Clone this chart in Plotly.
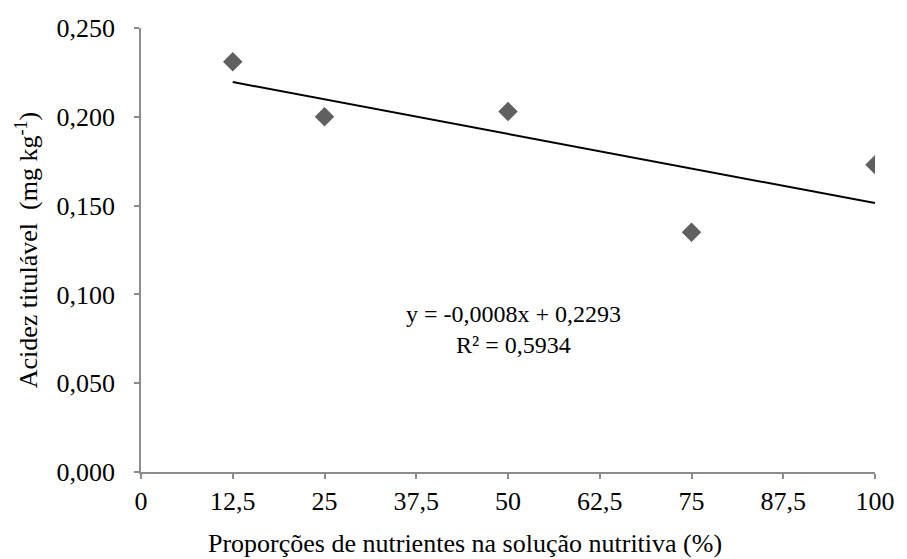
import numpy as np
import plotly.graph_objects as go

# Data
proporcoes = [12.5, 25, 50, 75, 100]
acidez = [0.231, 0.200, 0.203, 0.135, 0.173]
x_tickvals = [0, 12.5, 25, 37.5, 50, 62.5, 75, 87.5, 100]
x_ticktext = ["0", "12,5", "25", "37,5", "50", "62,5", "75", "87,5", "100"]
y_tickvals = [0, 0.05, 0.10, 0.15, 0.20, 0.25]
equation_lines = ["y = -0,0008x + 0,2293", "R² = 0,5934"]
x_title = "Proporções de nutrientes na solução nutritiva (%)"
y_title = "Acidez titulável&nbsp; (mg kg<sup>-1</sup>)"

slope, intercept = np.polyfit(proporcoes, acidez, 1)
trend_x = [min(proporcoes), max(proporcoes)]
trend_y = [slope * v + intercept for v in trend_x]

FONT = "Times New Roman, Liberation Serif, Tinos, DejaVu Serif, serif"
AX = "#8c8c8c"
FS = 26
FS_EQ = 24

fig = go.Figure()
fig.add_trace(go.Scatter(x=trend_x, y=trend_y, mode="lines",
                         line=dict(color="black", width=2), showlegend=False,
                         hoverinfo="skip"))
fig.add_trace(go.Scatter(x=proporcoes, y=acidez, mode="markers",
                         marker=dict(symbol="diamond", size=15, color="#606060"),
                         showlegend=False))

fig.add_annotation(x=50.7, y=0.0890, xref="x", yref="y", text=equation_lines[0],
                   showarrow=False, font=dict(family=FONT, size=FS_EQ, color="black"))
fig.add_annotation(x=50.7, y=0.0715, xref="x", yref="y", text=equation_lines[1],
                   showarrow=False, font=dict(family=FONT, size=FS_EQ, color="black"))
# x-axis title (off-centre relative to the plot area, as in the reference)
fig.add_annotation(x=0.442, y=0, xref="paper", yref="paper", yshift=-71,
                   xanchor="center", yanchor="middle", text=x_title,
                   showarrow=False, font=dict(family=FONT, size=FS, color="black"))

fig.update_layout(
    width=907, height=559,
    margin=dict(l=141, r=24, t=28, b=87),
    plot_bgcolor="white", paper_bgcolor="white",
    separators=", ",
    font=dict(family=FONT, size=FS, color="black"),
    xaxis=dict(range=[0, 100], tickvals=x_tickvals, ticktext=x_ticktext,
               showgrid=False, zeroline=False, showline=True, linecolor=AX,
               linewidth=1.5, ticks="outside", ticklen=5, tickcolor=AX, tickwidth=1.5,
               ticklabelstandoff=0, ticklabeloverflow="allow"),
    yaxis=dict(range=[0, 0.25], tickvals=y_tickvals, tickformat=".3f",
               showgrid=False, zeroline=False, showline=True, linecolor=AX,
               linewidth=1.5, ticks="outside", ticklen=5, tickcolor=AX, tickwidth=1.5,
               ticklabelstandoff=14,
               title=dict(text=y_title, standoff=11,
                          font=dict(family=FONT, size=FS))),
)

fig.write_html("out.html", config={"displayModeBar": False},
               post_script="document.body.style.margin='0';document.body.style.overflow='hidden';")
